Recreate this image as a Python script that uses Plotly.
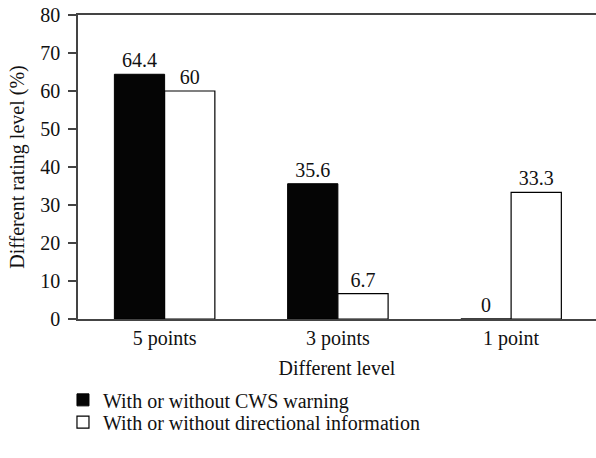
import plotly.graph_objects as go

categories = ["5 points", "3 points", "1 point"]
cws_values = [64.4, 35.6, 0]
dir_values = [60, 6.7, 33.3]
series_names = ["With or without CWS warning", "With or without directional information"]
y_ticks = [0, 10, 20, 30, 40, 50, 60, 70, 80]

FONT = "Liberation Serif, Times New Roman, serif"
FS = 20

fig = go.Figure()
fig.add_trace(go.Bar(
    x=categories, y=cws_values, name=series_names[0], legend="legend",
    marker=dict(color="#050505", line=dict(color="#000000", width=1)),
    text=[f"{v:g}" for v in cws_values], textposition="outside",
    textfont=dict(family=FONT, size=FS, color="#111"), cliponaxis=False,
))
fig.add_trace(go.Bar(
    x=categories, y=dir_values, name=series_names[1], legend="legend2",
    marker=dict(color="#ffffff", line=dict(color="#000000", width=1.2)),
    text=[f"{v:g}" for v in dir_values], textposition="outside",
    textfont=dict(family=FONT, size=FS, color="#111"), cliponaxis=False,
))

leg_common = dict(x=-0.029, xanchor="left", yanchor="middle",
                  font=dict(family=FONT, size=FS, color="#111"),
                  bgcolor="rgba(0,0,0,0)")

fig.update_layout(
    width=596, height=458,
    margin=dict(l=78, r=0, t=15, b=139),
    paper_bgcolor="white", plot_bgcolor="white",
    font=dict(family=FONT, size=FS, color="#111"),
    barmode="group", bargap=0.42, bargroupgap=0,
    showlegend=True,
    legend=dict(y=-0.266, **leg_common),
    legend2=dict(y=-0.339, **leg_common),
    xaxis=dict(
        range=[-0.5, 2.49], showline=True, linecolor="#444", linewidth=1.5,
        mirror=True, ticks="", showgrid=False, zeroline=False,
        title=dict(text="Different level", font=dict(family=FONT, size=FS), standoff=12),
        tickfont=dict(family=FONT, size=FS),
    ),
    yaxis=dict(
        range=[0, 80], tickvals=y_ticks, showline=True, linecolor="#444", linewidth=1.5,
        ticks="outside", ticklen=8, tickcolor="#444", tickwidth=1.5,
        ticklabelstandoff=4,
        showgrid=False, zeroline=False,
        title=dict(text="Different rating level (%)", font=dict(family=FONT, size=FS), standoff=10),
        tickfont=dict(family=FONT, size=FS),
    ),
)

fig.write_html("out.html")
